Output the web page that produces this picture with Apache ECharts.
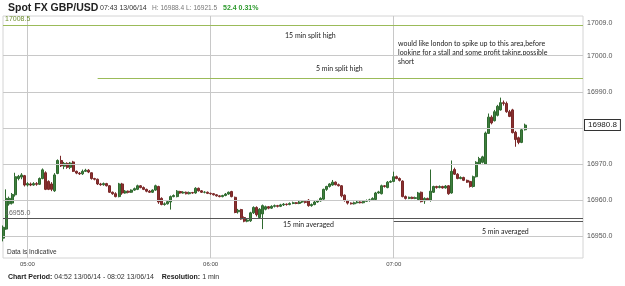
<!DOCTYPE html>
<html>
<head>
<meta charset="utf-8">
<script src="https://cdn.jsdelivr.net/npm/echarts@6/dist/echarts.min.js"></script>
<style>
  html, body { margin: 0; padding: 0; background: #fff; }
  #chart { width: 625px; height: 286px; }
</style>
</head>
<body>
<div id="chart"></div>
<script>
// one minute bars, 04:52 .. 08:02
const pad = n => (n < 10 ? '0' : '') + n;
const categories = [];
for (let m = 4 * 60 + 52; m <= 8 * 60 + 2; m++) {
  categories.push(pad(Math.floor(m / 60)) + ':' + pad(m % 60));
}
const xTickLabels = ['05:00', '06:00', '07:00'];

// [open, close, low, high] from 04:52 to 07:43
const candles = [
  [16949.5, 16952.5, 16948.6, 16953.0], [16952.0, 16960.5, 16951.8, 16963.0], [16959.0, 16960.5, 16958.5, 16961.0],
  [16959.2, 16961.6, 16958.8, 16962.0], [16961.5, 16966.5, 16961.0, 16967.6], [16966.0, 16966.6, 16965.5, 16967.0],
  [16966.4, 16967.0, 16965.8, 16967.5], [16966.8, 16964.2, 16963.8, 16967.0], [16964.2, 16964.6, 16963.8, 16965.0],
  [16964.5, 16964.2, 16963.9, 16964.9], [16964.2, 16964.6, 16964.0, 16965.0], [16964.6, 16964.4, 16964.0, 16965.0],
  [16964.4, 16966.0, 16964.2, 16966.3], [16966.0, 16968.4, 16965.8, 16968.8], [16967.6, 16963.0, 16962.8, 16968.0],
  [16965.2, 16963.0, 16962.8, 16965.5], [16964.5, 16963.0, 16962.5, 16965.0], [16962.6, 16967.0, 16962.3, 16967.5],
  [16967.4, 16971.0, 16967.2, 16971.3], [16971.0, 16969.5, 16969.2, 16972.3], [16969.4, 16970.2, 16968.6, 16970.6],
  [16970.2, 16969.1, 16968.7, 16970.5], [16969.1, 16970.3, 16968.6, 16970.6], [16970.6, 16968.0, 16967.8, 16970.9],
  [16968.0, 16967.5, 16967.2, 16968.2], [16967.5, 16967.3, 16967.0, 16967.8], [16967.3, 16968.0, 16967.0, 16968.5],
  [16968.0, 16968.3, 16967.8, 16968.7], [16968.3, 16967.8, 16967.5, 16968.6], [16967.6, 16966.0, 16965.7, 16967.7],
  [16966.0, 16965.8, 16965.5, 16966.2], [16965.8, 16964.5, 16964.2, 16966.0], [16964.5, 16964.3, 16964.0, 16964.8],
  [16964.3, 16964.6, 16964.0, 16964.9], [16964.6, 16964.0, 16963.8, 16964.8], [16964.0, 16962.2, 16962.0, 16964.2],
  [16962.2, 16961.8, 16961.5, 16962.4], [16961.8, 16961.0, 16960.8, 16962.2], [16961.0, 16964.5, 16960.8, 16964.8],
  [16964.5, 16962.0, 16961.5, 16964.8], [16962.0, 16962.5, 16961.8, 16962.8], [16962.5, 16962.2, 16961.9, 16962.7],
  [16962.2, 16962.8, 16962.0, 16963.0], [16962.8, 16963.2, 16962.6, 16963.5], [16963.0, 16964.0, 16962.8, 16964.3],
  [16964.0, 16963.5, 16963.3, 16964.2], [16963.5, 16963.0, 16962.8, 16963.8], [16963.0, 16962.5, 16962.2, 16963.2],
  [16962.5, 16962.2, 16962.0, 16962.8], [16962.2, 16962.8, 16962.0, 16963.0], [16962.8, 16964.0, 16962.6, 16964.3],
  [16963.8, 16959.5, 16959.0, 16964.0], [16960.5, 16958.8, 16958.6, 16960.8], [16958.8, 16959.0, 16958.5, 16959.4],
  [16959.0, 16959.6, 16958.8, 16960.0], [16959.5, 16961.0, 16957.4, 16961.3], [16961.0, 16961.3, 16960.8, 16961.6],
  [16961.0, 16962.5, 16960.8, 16962.8], [16962.4, 16962.0, 16961.8, 16962.6], [16962.0, 16962.2, 16961.8, 16962.5],
  [16962.2, 16961.8, 16961.6, 16962.4], [16961.8, 16962.1, 16961.6, 16962.4], [16962.1, 16962.0, 16961.8, 16962.3],
  [16962.0, 16963.3, 16961.8, 16963.6], [16963.3, 16962.6, 16962.4, 16963.5], [16962.6, 16962.2, 16962.0, 16962.8],
  [16962.2, 16962.2, 16961.9, 16962.5], [16962.2, 16961.9, 16961.7, 16962.4], [16961.9, 16961.8, 16961.5, 16962.1],
  [16961.8, 16961.5, 16961.3, 16962.0], [16961.5, 16961.2, 16961.0, 16961.7], [16961.2, 16961.0, 16960.8, 16961.4],
  [16961.0, 16961.3, 16960.8, 16961.5], [16961.3, 16961.7, 16961.1, 16962.0], [16961.7, 16962.2, 16961.5, 16962.4],
  [16962.4, 16961.0, 16960.8, 16962.6], [16960.8, 16956.6, 16956.4, 16961.0], [16956.8, 16957.2, 16956.3, 16957.6],
  [16957.4, 16954.8, 16954.6, 16957.6], [16955.2, 16954.2, 16953.9, 16955.5], [16954.2, 16954.5, 16953.9, 16955.0],
  [16954.3, 16956.5, 16954.0, 16956.8], [16956.5, 16958.0, 16956.2, 16958.3], [16958.0, 16956.0, 16955.5, 16958.3],
  [16955.2, 16957.5, 16955.0, 16957.8], [16956.2, 16958.5, 16952.0, 16958.8], [16957.5, 16958.2, 16957.2, 16958.5],
  [16958.2, 16957.8, 16957.5, 16958.4], [16957.8, 16958.3, 16957.6, 16958.6], [16958.3, 16958.5, 16958.0, 16958.8],
  [16958.5, 16958.3, 16958.0, 16958.7], [16958.3, 16958.7, 16958.1, 16959.0], [16958.7, 16958.9, 16958.4, 16959.2],
  [16958.9, 16958.8, 16958.5, 16959.1], [16958.8, 16959.1, 16958.6, 16959.4], [16959.1, 16959.3, 16958.9, 16959.6],
  [16959.3, 16959.1, 16958.9, 16959.5], [16959.1, 16959.5, 16958.9, 16959.8], [16959.5, 16959.6, 16959.2, 16959.9],
  [16959.6, 16959.4, 16959.1, 16959.8], [16960.0, 16958.5, 16958.2, 16960.3], [16958.5, 16958.8, 16958.2, 16959.1],
  [16958.8, 16959.5, 16958.6, 16959.8], [16959.5, 16959.8, 16959.3, 16960.1], [16959.8, 16960.5, 16959.6, 16960.8],
  [16960.3, 16963.0, 16960.1, 16963.2], [16963.0, 16963.8, 16962.6, 16964.0], [16963.8, 16964.5, 16963.5, 16964.7],
  [16964.2, 16965.0, 16964.0, 16965.6], [16965.0, 16964.3, 16964.1, 16965.2], [16964.3, 16964.0, 16963.8, 16964.6],
  [16964.0, 16961.2, 16960.8, 16964.2], [16961.4, 16959.9, 16959.6, 16961.6], [16959.9, 16959.2, 16958.8, 16960.1],
  [16959.2, 16959.0, 16958.8, 16959.4], [16959.0, 16959.3, 16958.8, 16959.6], [16959.3, 16959.5, 16959.1, 16959.8],
  [16959.5, 16959.3, 16959.1, 16959.7], [16959.3, 16959.7, 16959.1, 16960.0], [16959.7, 16959.9, 16959.5, 16960.2],
  [16959.9, 16960.1, 16959.6, 16960.4], [16960.1, 16960.5, 16959.9, 16960.8], [16960.2, 16962.0, 16960.0, 16962.3],
  [16962.0, 16962.3, 16961.8, 16962.6], [16961.8, 16964.0, 16961.6, 16964.3], [16964.0, 16963.8, 16963.5, 16964.2],
  [16963.5, 16965.0, 16963.3, 16965.3], [16965.0, 16965.2, 16964.8, 16965.5], [16965.2, 16966.5, 16965.0, 16967.9],
  [16966.5, 16966.0, 16965.8, 16966.8], [16966.0, 16965.5, 16965.2, 16966.3], [16965.3, 16961.0, 16960.8, 16965.5],
  [16961.0, 16960.5, 16960.2, 16961.3], [16960.5, 16960.8, 16960.3, 16961.0], [16960.8, 16960.5, 16960.3, 16961.0],
  [16960.5, 16960.7, 16960.3, 16961.0], [16960.2, 16962.0, 16960.0, 16962.3], [16962.2, 16959.6, 16959.4, 16962.4],
  [16959.8, 16960.5, 16959.0, 16960.8], [16960.5, 16960.0, 16959.8, 16960.7], [16960.0, 16962.5, 16959.6, 16968.5],
  [16962.2, 16963.8, 16962.0, 16964.0], [16963.8, 16963.5, 16963.2, 16964.0], [16963.5, 16963.8, 16963.3, 16964.1],
  [16963.8, 16963.4, 16963.2, 16964.0], [16963.4, 16963.9, 16963.2, 16964.2], [16964.0, 16961.8, 16961.5, 16964.2],
  [16962.0, 16968.0, 16961.8, 16971.0], [16968.5, 16967.2, 16967.0, 16969.0], [16967.2, 16966.0, 16965.8, 16967.5],
  [16966.0, 16966.3, 16965.8, 16966.6], [16966.3, 16965.5, 16965.3, 16966.5], [16965.5, 16965.0, 16964.8, 16965.7],
  [16965.2, 16963.8, 16963.5, 16965.4], [16963.8, 16966.5, 16963.5, 16966.8], [16966.5, 16970.5, 16966.3, 16970.8],
  [16970.0, 16971.5, 16969.8, 16972.0], [16970.5, 16972.0, 16970.2, 16972.3], [16970.0, 16978.6, 16969.8, 16979.0],
  [16978.5, 16983.0, 16978.4, 16984.0], [16983.0, 16981.4, 16981.0, 16983.5], [16982.0, 16984.5, 16981.8, 16985.0],
  [16983.5, 16986.0, 16983.2, 16986.4], [16985.0, 16987.0, 16984.8, 16988.4], [16987.0, 16986.8, 16986.2, 16987.6],
  [16986.8, 16984.5, 16984.2, 16987.3], [16984.5, 16983.2, 16983.0, 16985.0], [16985.0, 16978.7, 16978.5, 16985.3],
  [16978.8, 16976.8, 16974.8, 16979.2], [16977.3, 16976.0, 16975.5, 16977.6], [16976.0, 16979.5, 16975.8, 16979.8],
  [16979.5, 16980.8, 16979.3, 16981.2]
];

// horizontal grid and the price labels on the right axis
const yGridValues = [16950, 16960, 16970, 16980, 16990, 17000];
const yLabelValues = [16950, 16960, 16970, 16990, 17000];
const topLabel = 17009.0;
const lastPrice = 16980.8;

// drawn levels: value, from, to
const splitHigh15 = [17008.5, '04:52', '08:02'];
const splitHigh5 = [16993.9, '05:23', '08:02'];
const averaged15 = [16955.0, '04:52', '08:02'];
const averaged5 = [16954.2, '07:00', '08:02'];

const green = '#9bbb59';
const dark = '#555';
const gridGrey = '#c8c8c8';
const sans = '"Liberation Sans", sans-serif';
const narrow = '"Liberation Sans Narrow", "Liberation Sans", sans-serif';
const note = 'Lato, "Open Sans", sans-serif';

const level = (lv, color, label) => [
  { coord: [lv[1], lv[0]], lineStyle: { color: color, width: 1, type: 'solid' },
    label: label ? Object.assign({ show: true, position: 'insideStartTop', distance: [2, 2],
      formatter: lv[0].toFixed(1), fontSize: 7, fontFamily: narrow }, label) : { show: false } },
  { coord: [lv[2], lv[0]] }
];

// horizontal grid lines across the whole plot
const gridLines = yGridValues.map(v => [
  { coord: [categories[0], v], lineStyle: { color: gridGrey, width: 1, type: 'solid' }, label: { show: false } },
  { coord: [categories[categories.length - 1], v] }
]);

// invisible line that only carries a label on the price axis side
const sideLabel = (value, boxed) => ({
  yAxis: value,
  lineStyle: { color: 'rgba(0,0,0,0)', width: 0 },
  label: Object.assign({
    show: true, position: 'end', distance: boxed ? 2 : 4,
    formatter: value.toFixed(1),
    fontSize: boxed ? 8 : 7, fontFamily: sans, color: boxed ? '#222' : '#555'
  }, boxed ? { backgroundColor: '#fff', borderColor: '#333', borderWidth: 1, padding: [1, 3] } : {})
});

const chart = echarts.init(document.getElementById('chart'));
chart.setOption({
  animation: false,
  backgroundColor: '#fff',
  grid: { left: 3, right: 42, top: 16, bottom: 28, show: true, borderColor: '#d4d4d4', borderWidth: 1 },
  xAxis: {
    type: 'category',
    data: categories,
    boundaryGap: false,
    axisLine: { show: false },
    axisTick: { show: false },
    axisLabel: {
      interval: (i, v) => xTickLabels.includes(v),
      fontSize: 6, fontFamily: narrow, color: '#444', margin: 3
    },
    splitLine: { show: true, interval: (i, v) => xTickLabels.includes(v), lineStyle: { color: gridGrey } }
  },
  yAxis: {
    type: 'value',
    position: 'right',
    scale: true,
    min: 16944,
    max: 17011,
    axisLine: { show: false },
    axisTick: { show: false },
    axisLabel: {
      formatter: v => (yLabelValues.includes(v) ? v.toFixed(1) : ''),
      fontSize: 7, fontFamily: sans, color: '#555', margin: 4
    },
    splitLine: { show: false }
  },
  series: [
    {
      type: 'candlestick',
      data: candles,
      barWidth: 2.5,
      itemStyle: {
        color: '#3f7f3f', color0: '#8a3030',
        borderColor: '#2f6a2f', borderColor0: '#7a2828', borderWidth: 1
      },
      markLine: {
        silent: true,
        symbol: 'none',
        animation: false,
        data: gridLines.concat([
          level(splitHigh15, green, { color: '#6f8f2f' }),
          level(splitHigh5, green),
          level(averaged15, dark, { color: '#666' }),
          level(averaged5, dark),
          sideLabel(topLabel, false),
          sideLabel(lastPrice, true)
        ])
      }
    }
  ],
  graphic: [
    { type: 'text', x: 8, y: 8, style: { text: 'Spot FX GBP/USD', fontSize: 10.5, fontWeight: 'bold',
      fontFamily: sans, fill: '#222', verticalAlign: 'middle' } },
    { type: 'text', x: 100, y: 8, style: { text: '07:43 13/06/14', fontSize: 7, fontFamily: narrow,
      fill: '#333', verticalAlign: 'middle' } },
    { type: 'text', x: 152, y: 8, style: { text: 'H: 16988.4 L: 16921.5', fontSize: 6.6, fontFamily: narrow,
      fill: '#777', verticalAlign: 'middle' } },
    { type: 'text', x: 223, y: 8, style: { text: '52.4 0.31%', fontSize: 7, fontWeight: 'bold',
      fontFamily: narrow, fill: '#2e9a2e', verticalAlign: 'middle' } },

    { type: 'text', x: 285, y: 36, style: { text: '15 min split high', fontSize: 7, fontFamily: note,
      fill: '#222', verticalAlign: 'middle' } },
    { type: 'text', x: 316, y: 69, style: { text: '5 min split high', fontSize: 7, fontFamily: note,
      fill: '#222', verticalAlign: 'middle' } },
    { type: 'text', x: 398, y: 39.5, style: {
      text: 'would like london to spike up to this area,before\nlooking for a stall and some profit taking,possible\nshort',
      fontSize: 7, lineHeight: 9, fontFamily: note, fill: '#222', verticalAlign: 'top' } },
    { type: 'text', x: 283, y: 225, style: { text: '15 min averaged', fontSize: 7, fontFamily: note,
      fill: '#222', verticalAlign: 'middle' } },
    { type: 'text', x: 482, y: 232, style: { text: '5 min averaged', fontSize: 7, fontFamily: note,
      fill: '#222', verticalAlign: 'middle' } },

    { type: 'text', x: 7, y: 252.5, style: { text: 'Data is Indicative', fontSize: 6.5,
      fontFamily: sans, fill: '#333', verticalAlign: 'middle' } },
    { type: 'text', x: 8, y: 277, style: {
      text: '{b|Chart Period:} 04:52 13/06/14 - 08:02 13/06/14    {b|Resolution:} 1 min',
      fontSize: 7, fontFamily: sans, fill: '#333', verticalAlign: 'middle',
      rich: { b: { fontSize: 7, fontWeight: 'bold', fontFamily: sans, fill: '#222' } } } }
  ]
});
</script>
</body>
</html>
